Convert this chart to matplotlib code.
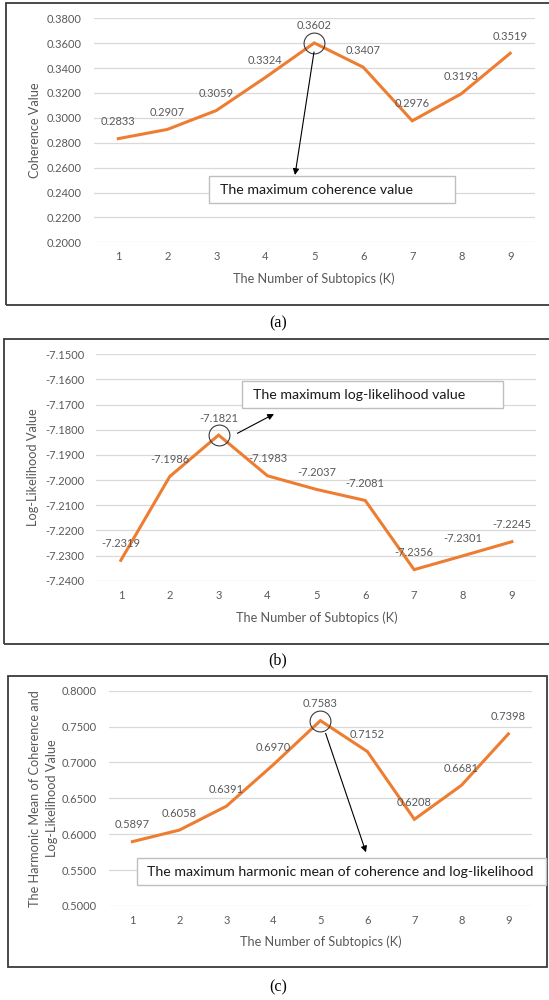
import matplotlib
matplotlib.use("Agg")
import matplotlib.pyplot as plt
from matplotlib.patches import Rectangle
import numpy as np

# ---------------- data ----------------
k_values = [1, 2, 3, 4, 5, 6, 7, 8, 9]
coherence = [0.2833, 0.2907, 0.3059, 0.3324, 0.3602, 0.3407, 0.2976, 0.3193, 0.3519]
loglik = [-7.2319, -7.1986, -7.1821, -7.1983, -7.2037, -7.2081, -7.2356, -7.2301, -7.2245]
harmonic = [0.5897, 0.6058, 0.6391, 0.6970, 0.7583, 0.7152, 0.6208, 0.6681, 0.7398]

yticks_a = [0.20, 0.22, 0.24, 0.26, 0.28, 0.30, 0.32, 0.34, 0.36, 0.38]
yticks_b = [-7.24, -7.23, -7.22, -7.21, -7.20, -7.19, -7.18, -7.17, -7.16, -7.15]
yticks_c = [0.50, 0.55, 0.60, 0.65, 0.70, 0.75, 0.80]

xlabel = "The Number of Subtopics (K)"
ylabel_a = "Coherence Value"
ylabel_b = "Log-Likelihood Value"
ylabel_c = "The Harmonic Mean of Coherence and\nLog-Likelihood Value"
note_a = "The maximum coherence value"
note_b = "The maximum log-likelihood value"
note_c = "The maximum harmonic mean of coherence and log-likelihood"
captions = ["(a)", "(b)", "(c)"]

# ---------------- style ----------------
W, H = 549, 1000
FONT = "Lato"
GRAY = "#595959"
ORANGE = "#ED7D31"
GRID = "#D9D9D9"
TICK_FS = 8
LABEL_FS = 9.2
NOTE_FS = 10.2

fig = plt.figure(figsize=(W / 100, H / 100), dpi=100)
fig.patch.set_facecolor("white")


def fx(x):
    return x / W


def fy(y):
    return 1 - y / H


def rect(x0, x1, ytop, ybot):
    return [x0 / W, 1 - ybot / H, (x1 - x0) / W, (ybot - ytop) / H]


def panel_box(x0, x1, ytop, ybot):
    fig.patches.append(Rectangle((fx(x0), fy(ybot)), fx(x1) - fx(x0), fy(ytop) - fy(ybot),
                                 transform=fig.transFigure, fill=False,
                                 edgecolor="#3a3a3a", linewidth=1.3, zorder=0))


def note_box(x0, x1, ytop, ybot, text, tx):
    fig.patches.append(Rectangle((fx(x0), fy(ybot)), fx(x1) - fx(x0), fy(ytop) - fy(ybot),
                                 transform=fig.transFigure, facecolor="white",
                                 edgecolor="#BFBFBF", linewidth=1.0, zorder=5))
    fig.text(fx(tx), fy((ytop + ybot) / 2), text, ha="left", va="center",
             fontsize=NOTE_FS, family=FONT, color="#1a1a1a", zorder=6)


def arrow(x0, y0, x1, y1):
    fig.add_artist(matplotlib.patches.FancyArrowPatch(
        (fx(x0), fy(y0)), (fx(x1), fy(y1)), transform=fig.transFigure,
        arrowstyle="-|>", mutation_scale=9, color="black", linewidth=0.8,
        shrinkA=0, shrinkB=0, zorder=7))


def draw(ax, values, yticks, ylabel, ylab_x, xlab_y):
    ax.set_xlim(0.5, 9.5)
    ax.set_ylim(yticks[0], yticks[-1])
    ax.set_yticks(yticks)
    ax.set_yticklabels([f"{v:.4f}" for v in yticks])
    ax.set_xticks(k_values)
    ax.set_xticklabels([str(k) for k in k_values])
    for s in ax.spines.values():
        s.set_visible(False)
    ax.grid(axis="y", color=GRID, linewidth=0.9)
    ax.set_axisbelow(True)
    ax.tick_params(axis="both", length=0, labelsize=TICK_FS, labelcolor=GRAY)
    ax.tick_params(axis="y", pad=8.6)
    ax.tick_params(axis="x", pad=6.5)
    for lab in ax.get_xticklabels() + ax.get_yticklabels():
        lab.set_family(FONT)
    ax.plot(k_values, values, color=ORANGE, linewidth=2.2, solid_joinstyle="miter", zorder=3)
    for k, v in zip(k_values, values):
        ax.annotate(f"{v:.4f}", xy=(k, v), xytext=(0, 17), textcoords="offset pixels",
                    ha="center", va="center", fontsize=TICK_FS, family=FONT,
                    color=GRAY, zorder=4)
    i = int(np.argmax(values))
    ax.plot(k_values[i], values[i], "o", ms=15, mfc="none", mec="#3a3a3a", mew=0.8, zorder=4)
    ax.set_xlabel(xlabel, fontsize=LABEL_FS, family=FONT, color=GRAY)
    ax.xaxis.label.set_va("center")
    ax.xaxis.set_label_coords(0.5, xlab_y)
    ax.set_ylabel(ylabel, fontsize=LABEL_FS, family=FONT, color=GRAY, linespacing=1.5)
    ax.yaxis.label.set_va("center")
    ax.yaxis.set_label_coords(ylab_x, 0.5)
    ax.set_facecolor("none")


# panel (a)
panel_box(6, 560, 3, 305)
ax_a = fig.add_axes(rect(93.8, 534.7, 18.3, 242.3))
draw(ax_a, coherence, yticks_a, ylabel_a, -0.1334, -0.164)
arrow(314, 52, 295, 175)
note_box(209, 455, 176, 203, note_a, 220)

# panel (b)
panel_box(4, 560, 339, 644)
ax_b = fig.add_axes(rect(96.4, 536.3, 354.3, 580.7))
draw(ax_b, loglik, yticks_b, ylabel_b, -0.1434, -0.165)
arrow(237.4, 433.3, 274, 414)
note_box(242, 502.5, 380.7, 408.3, note_b, 252.8)

# panel (c)
panel_box(8, 546.5, 675.5, 967)
ax_c = fig.add_axes(rect(108.9, 531.9, 690.7, 906))
draw(ax_c, harmonic, yticks_c, ylabel_c, -0.1546, -0.167)
arrow(325.6, 733.3, 366, 852.3)
note_box(136.5, 546, 858.3, 885, note_c, 147)

# captions
for cap, yc in zip(captions, [323, 660, 987]):
    fig.text(fx(278), fy(yc), cap, ha="center", va="center", fontsize=11.5,
             family="Liberation Serif", color="black")

fig.savefig("out.png", dpi=100, facecolor="white")
